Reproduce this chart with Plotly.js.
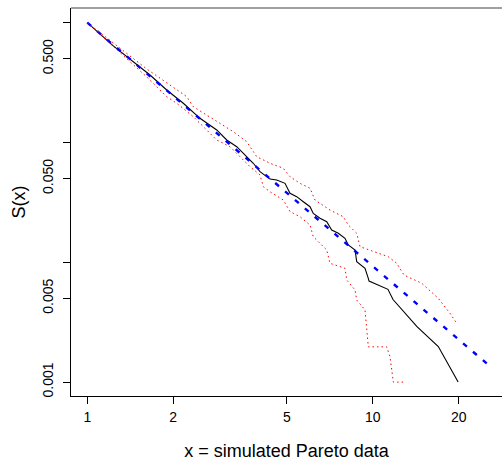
<!DOCTYPE html>
<html>
<head>
<meta charset="utf-8">
<script src="https://cdn.plot.ly/plotly-3.0.1.min.js"></script>
<style>
html,body{margin:0;padding:0;overflow:hidden;background:#fff;}
#chart{width:502px;height:462px;}
</style>
</head>
<body>
<div id="chart"></div>
<script>
// Empirical survival function (black)
const empX = [1, 1.233, 1.658, 1.897, 2.169, 2.481, 2.840, 3.078, 3.337, 3.617, 3.814, 4.026, 4.364, 4.607, 4.926, 5.129, 5.413, 5.710, 6.026, 6.188, 6.532, 6.896, 7.178, 7.571, 7.99, 8.208, 8.665, 8.783, 9.391, 9.643, 9.699, 11.30, 11.77, 14.28, 16.96, 19.9];
const empS = [1, 0.640, 0.366, 0.2744, 0.2125, 0.1592, 0.1272, 0.1049, 0.0922, 0.0761, 0.0671, 0.0571, 0.0495, 0.0486, 0.0456, 0.0377, 0.0353, 0.0320, 0.0291, 0.0256, 0.0233, 0.0218, 0.0186, 0.01746, 0.01586, 0.01395, 0.01267, 0.01012, 0.00891, 0.00735, 0.00697, 0.00595, 0.00489, 0.0029, 0.00198, 0.001];

// Fitted Pareto survival (blue dashed)
const fitX = [1, 5, 25.6];
const fitS = [1, 0.0379, 0.00137];

// Upper confidence band (red dotted)
const upX = [1, 1.615, 1.948, 2.229, 2.351, 2.840, 3.246, 3.617, 3.921, 4.364, 4.860, 5.129, 5.559, 6.026, 6.273, 7.081, 7.883, 8.208, 8.783, 9.020, 10.04, 11.33, 12.13, 12.86, 14.84, 16.96, 18.64, 19.77];
const upS = [1, 0.4108, 0.302, 0.2412, 0.1990, 0.1492, 0.1231, 0.1016, 0.0761, 0.0671, 0.0609, 0.0518, 0.0456, 0.0415, 0.0331, 0.0273, 0.0240, 0.02048, 0.01746, 0.0135, 0.01226, 0.01113, 0.00981, 0.00783, 0.00668, 0.0050, 0.00375, 0.00304];

// Lower confidence band (red dotted)
const loX = [1, 1.615, 1.897, 2.057, 2.351, 2.619, 2.840, 3.162, 3.427, 3.715, 4.026, 4.135, 4.364, 4.860, 5.129, 5.559, 6.026, 6.188, 6.896, 7.081, 7.99, 8.104, 8.665, 8.783, 9.391, 9.52, 9.643, 11.18, 11.49, 11.80, 12.97];
const loS = [1, 0.3522, 0.2412, 0.2125, 0.1642, 0.1272, 0.1049, 0.0922, 0.0761, 0.0628, 0.0536, 0.0428, 0.0388, 0.0331, 0.0265, 0.0240, 0.02048, 0.01636, 0.01267, 0.00981, 0.00891, 0.00712, 0.00587, 0.00484, 0.0040, 0.00272, 0.00197, 0.00197, 0.00163, 0.001, 0.001];

// Axis ticks
const xTicks = [1, 2, 5, 10, 20];
const xTickText = ['1', '2', '5', '10', '20'];
const yTicks = [1, 0.5, 0.1, 0.05, 0.01, 0.005, 0.001];
const yTickText = ['', '0.500', '', '0.050', '', '0.005', '0.001'];

const traces = [
  {x: empX, y: empS, mode: 'lines', line: {color: '#000000', width: 1.1}, hoverinfo: 'skip'},
  {x: fitX, y: fitS, mode: 'lines', line: {color: '#0000ff', width: 2.4, dash: '5px,8px'}, hoverinfo: 'skip'},
  {x: loX, y: loS, mode: 'lines', line: {color: '#ff0000', width: 1, dash: '1.5px,3px'}, hoverinfo: 'skip'},
  {x: upX, y: upS, mode: 'lines', line: {color: '#ff0000', width: 1, dash: '1.5px,3px'}, hoverinfo: 'skip'}
];

const fontFam = '"Liberation Sans", Arial, Helvetica, sans-serif';
const layout = {
  width: 502, height: 462,
  margin: {l: 71, r: 0, t: 8, b: 66, pad: 0},
  paper_bgcolor: '#ffffff', plot_bgcolor: '#ffffff',
  showlegend: false,
  font: {family: fontFam, color: '#000000', size: 14},
  xaxis: {
    type: 'log', range: [-0.0571, 1.4525],
    tickmode: 'array', tickvals: xTicks, ticktext: xTickText,
    ticks: 'outside', ticklen: 7, tickwidth: 1, tickcolor: '#000000',
    showline: true, linecolor: '#000000', linewidth: 1,
    showgrid: false, zeroline: false,
    tickfont: {size: 14, family: fontFam},
    ticklabelstandoff: 1,
    title: {text: 'x = simulated Pareto data', font: {size: 18, family: fontFam}, standoff: 20}
  },
  yaxis: {
    type: 'log', range: [-3.116, 0.1227],
    tickmode: 'array', tickvals: yTicks, ticktext: yTickText,
    tickangle: -90,
    ticks: 'outside', ticklen: 7, tickwidth: 1, tickcolor: '#000000',
    showline: true, linecolor: '#000000', linewidth: 1,
    showgrid: false, zeroline: false,
    tickfont: {size: 14, family: fontFam},
    ticklabelstandoff: 4,
    title: {text: 'S(x)', font: {size: 18, family: fontFam}, standoff: 10}
  },
  shapes: [
    {type: 'line', xref: 'paper', yref: 'paper', x0: 0, x1: 1, y0: 1, y1: 1, line: {color: '#808080', width: 1.5}}
  ]
};

Plotly.newPlot('chart', traces, layout, {staticPlot: true, displayModeBar: false});
</script>
</body>
</html>
